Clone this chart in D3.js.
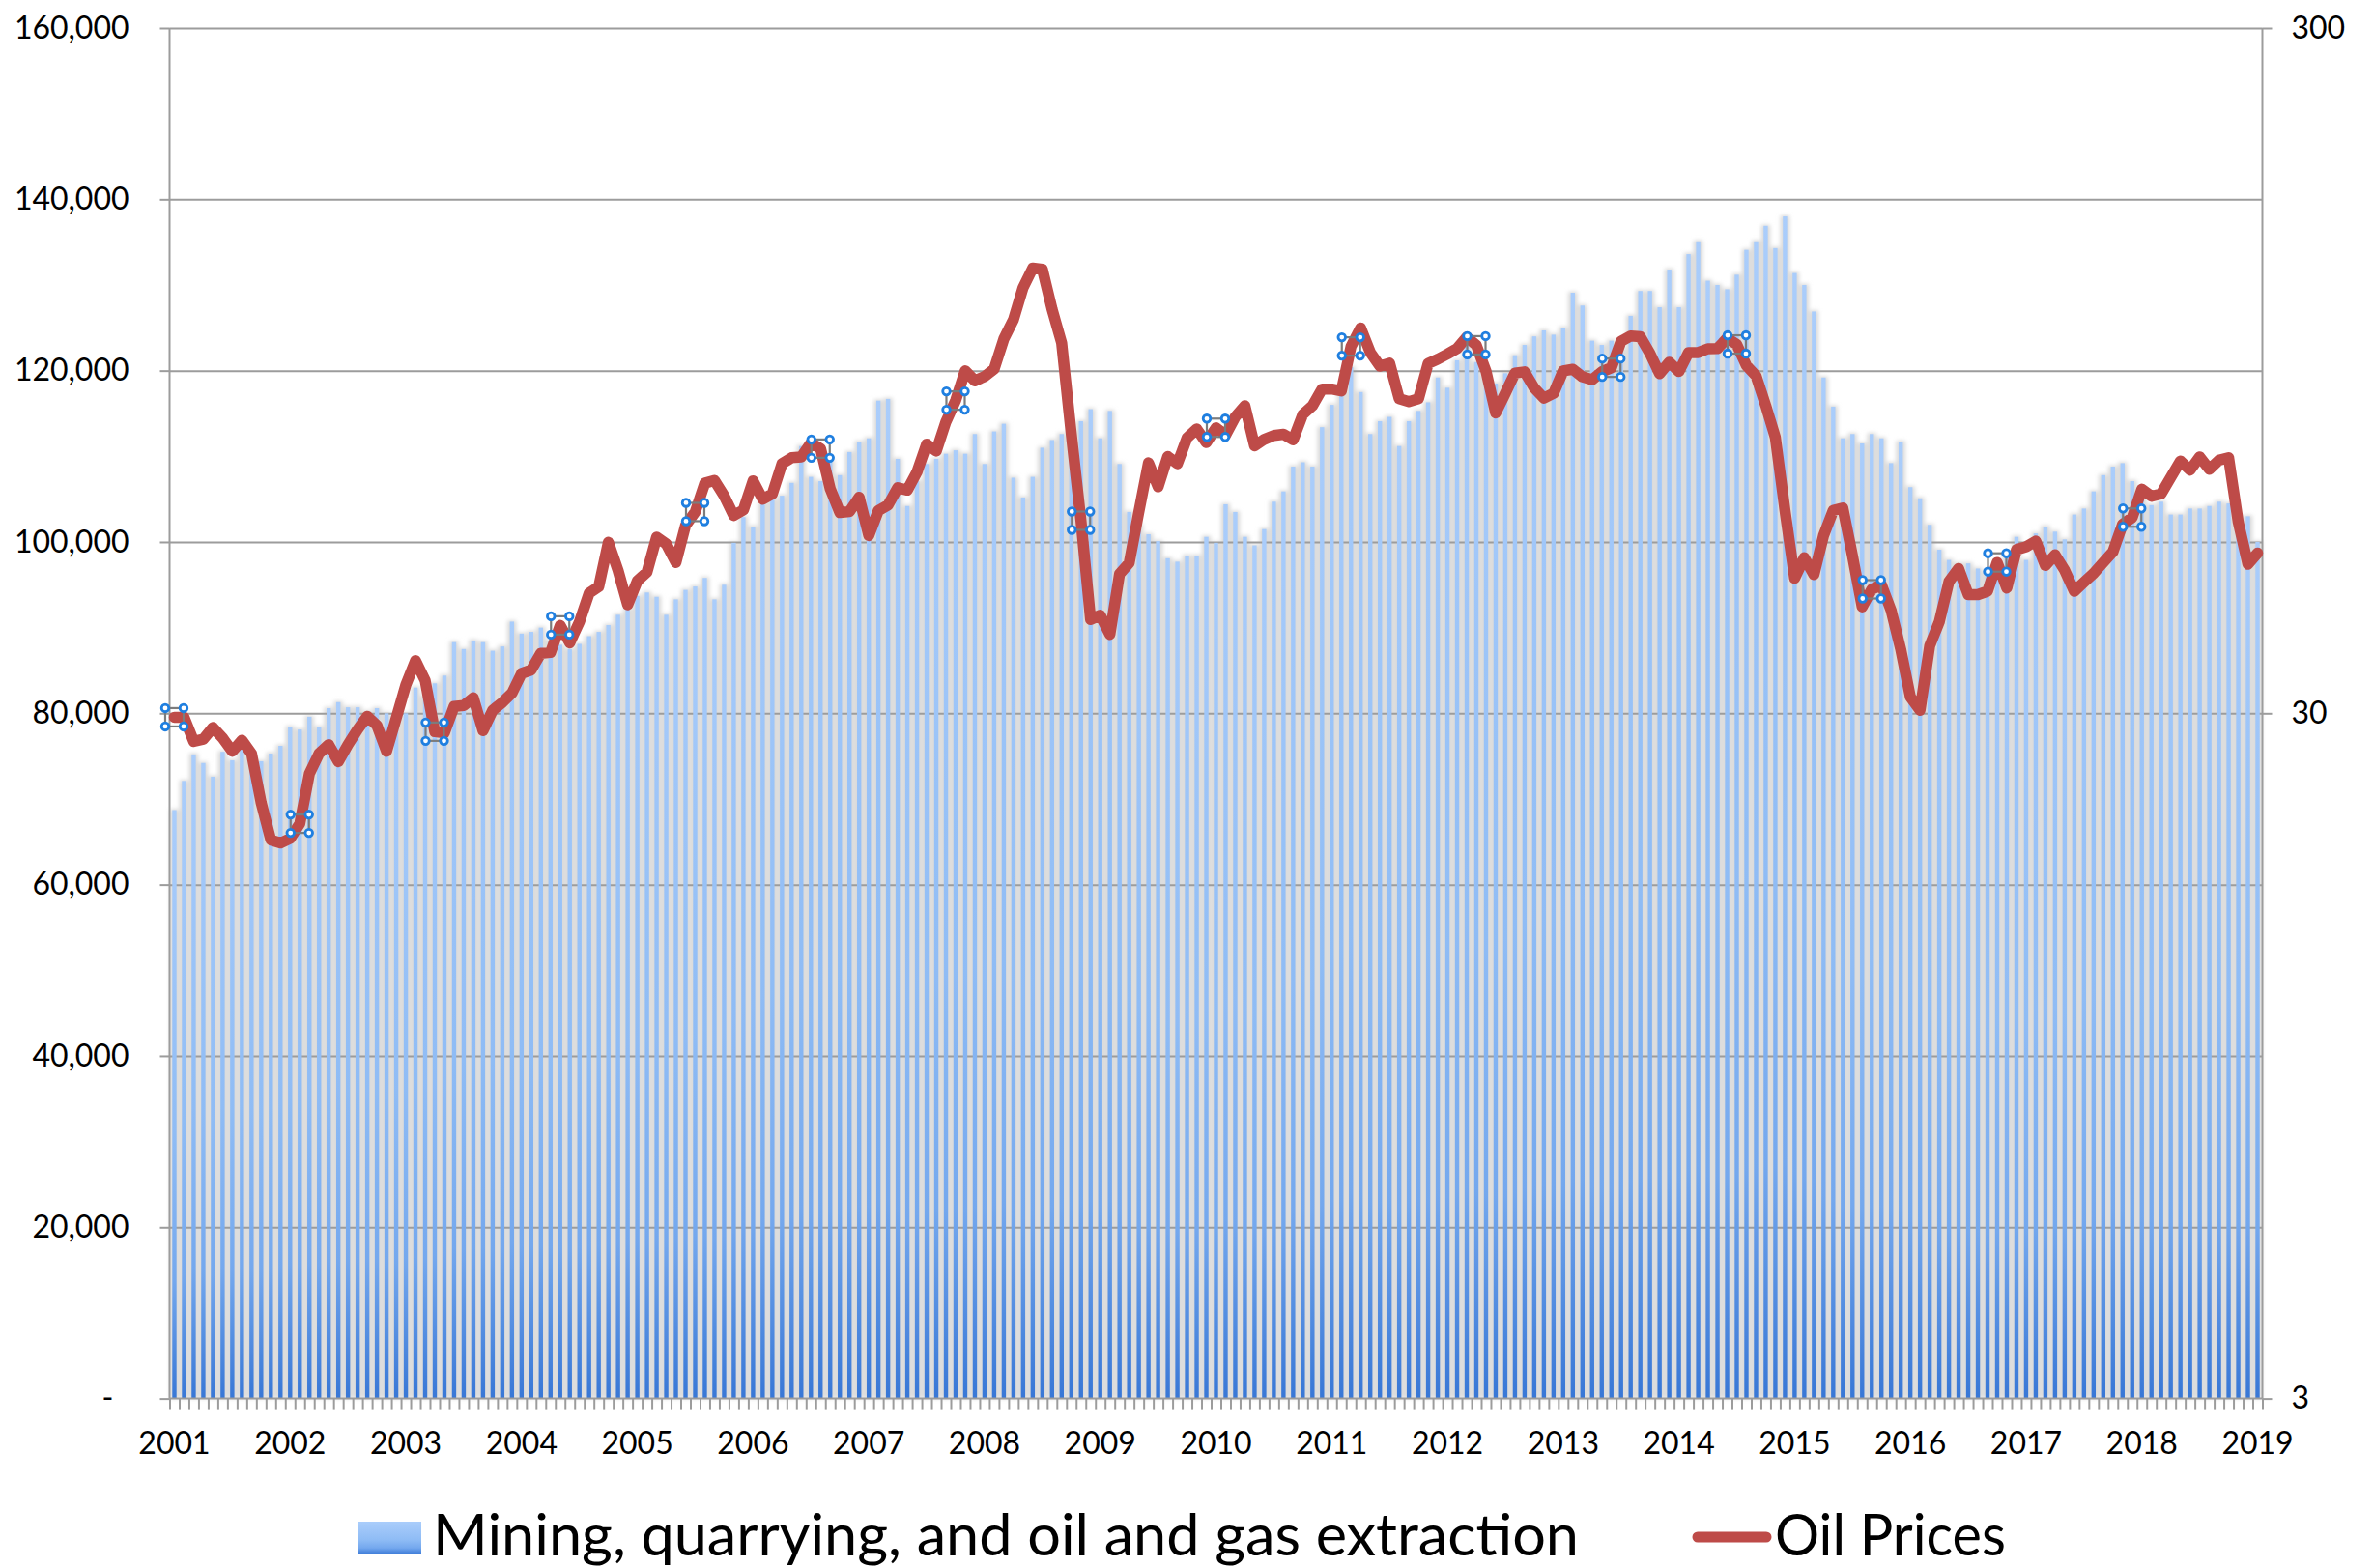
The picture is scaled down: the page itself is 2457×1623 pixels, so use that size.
<!DOCTYPE html>
<html>
<head>
<meta charset="utf-8">
<script src="https://cdn.jsdelivr.net/npm/d3@7"></script>
<style>
  body { margin: 0; background: #fff; }
  svg { display: block; }
  text { font-family: Lato, "Open Sans", sans-serif; fill: #000; }
</style>
</head>
<body>
<svg id="chart" width="2457" height="1623"></svg>
<script>
"use strict";

// category axis labels, one per January
let yearLabels = ["2001", "2002", "2003", "2004", "2005", "2006", "2007", "2008", "2009", "2010",
  "2011", "2012", "2013", "2014", "2015", "2016", "2017", "2018", "2019"];

// Mining, quarrying, and oil and gas extraction - monthly, Jan 2001 .. Jan 2019 (thousands)
let mining = [
  68.7, 72.1, 75.2, 74.2, 72.6, 75.5, 74.5, 76.0, 74.8, 74.4, 75.3, 76.2,           // 2001
  78.4, 78.1, 79.6, 78.4, 80.6, 81.3, 80.7, 80.7, 80.2, 80.6, 80.0, 79.5,           // 2002
  80.0, 83.0, 82.0, 83.5, 84.4, 88.3, 87.5, 88.5, 88.3, 87.3, 87.8, 90.7,           // 2003
  89.3, 89.5, 90.0, 88.5, 88.0, 87.5, 88.1, 89.0, 89.5, 90.3, 91.5, 92.2,           // 2004
  93.7, 94.1, 93.6, 91.5, 93.3, 94.4, 94.8, 95.8, 93.3, 95.0, 99.9, 102.9,          // 2005
  101.8, 104.6, 105.0, 105.4, 106.9, 111.2, 107.6, 107.1, 109.5, 107.8, 110.5, 111.7, // 2006
  112.1, 116.5, 116.7, 109.7, 104.2, 107.1, 109.1, 109.7, 110.3, 110.7, 110.3, 112.6, // 2007
  109.1, 112.9, 113.8, 107.5, 105.2, 107.6, 111.0, 111.9, 112.6, 113.0, 114.1, 115.5, // 2008
  112.1, 115.3, 109.1, 103.5, 102.0, 100.9, 100.1, 98.1, 97.7, 98.4, 98.4, 100.6,   // 2009
  99.9, 104.4, 103.5, 100.6, 99.6, 101.5, 104.7, 105.9, 108.8, 109.3, 108.8, 113.4, // 2010
  116.0, 117.4, 120.4, 117.5, 112.6, 114.1, 114.6, 111.2, 114.1, 115.3, 116.3, 119.2, // 2011
  118.0, 121.2, 123.0, 121.0, 119.5, 118.5, 119.7, 121.8, 123.0, 124.0, 124.7, 124.2, // 2012
  125.0, 129.1, 127.6, 123.5, 123.0, 123.5, 122.5, 126.4, 129.3, 129.3, 127.4, 131.8, // 2013
  127.4, 133.6, 135.1, 130.5, 130.0, 129.5, 131.2, 134.1, 135.1, 136.9, 134.3, 138.0, // 2014
  131.4, 130.0, 126.9, 119.2, 115.8, 112.1, 112.6, 111.5, 112.6, 112.1, 109.2, 111.7, // 2015
  106.4, 105.1, 102.0, 99.1, 97.9, 97.5, 97.5, 96.9, 96.5, 97.5, 98.5, 100.6,       // 2016
  97.9, 101.0, 101.8, 101.2, 100.3, 103.2, 103.9, 105.9, 107.8, 108.8, 109.2, 107.1, // 2017
  106.0, 104.3, 104.7, 103.2, 103.2, 103.9, 103.9, 104.2, 104.7, 104.5, 103.0, 103.0, // 2018
  100.0                                                                               // 2019
].map(v => v * 1000);

// Oil Prices - monthly, same months ($/bbl, right log axis)
let oil = [
  29.6, 29.6, 27.3, 27.5, 28.6, 27.6, 26.4, 27.4, 26.2, 22.2, 19.6, 19.4,
  19.7, 20.7, 24.5, 26.2, 27.0, 25.5, 27.0, 28.4, 29.7, 28.8, 26.4, 29.5,
  33.0, 35.8, 33.5, 28.2, 28.1, 30.7, 30.8, 31.6, 28.3, 30.3, 31.1, 32.1,
  34.3, 34.7, 36.7, 36.8, 40.3, 38.0, 40.8, 44.9, 45.9, 53.3, 48.5, 43.2,
  46.8, 48.2, 54.2, 53.0, 49.8, 56.4, 59.0, 65.0, 65.6, 62.3, 58.3, 59.4,
  65.5, 61.6, 62.7, 69.4, 70.8, 71.0, 74.4, 73.0, 63.8, 58.9, 59.1, 62.0,
  54.5, 59.3, 60.4, 64.0, 63.5, 67.5, 74.1, 72.4, 79.9, 85.8, 94.8, 91.7,
  93.0, 95.4, 105.5, 112.6, 125.4, 133.9, 133.4, 116.7, 104.1, 76.6, 57.3, 41.1,
  41.7, 39.1, 47.9, 49.7, 59.0, 69.6, 64.2, 71.1, 69.4, 75.7, 78.0, 74.5,
  78.3, 76.4, 81.2, 84.3, 73.7, 75.3, 76.3, 76.6, 75.2, 81.9, 84.3, 89.2,
  89.2, 88.6, 102.9, 109.5, 100.9, 96.3, 97.3, 86.3, 85.5, 86.3, 97.2, 98.6,
  100.3, 102.2, 106.2, 103.3, 94.7, 82.3, 87.9, 94.1, 94.5, 89.5, 86.5, 87.9,
  94.8, 95.3, 92.9, 92.0, 94.5, 95.8, 104.7, 106.6, 106.3, 100.5, 93.9, 97.6,
  94.6, 100.8, 100.8, 102.1, 102.2, 105.8, 103.6, 96.5, 93.2, 84.4, 75.8, 59.3,
  47.2, 50.6, 47.8, 54.5, 59.3, 59.8, 50.9, 42.9, 45.5, 46.2, 42.4, 37.2,
  31.7, 30.3, 37.6, 40.8, 46.7, 48.8, 44.7, 44.7, 45.2, 49.8, 45.7, 52.0,
  52.5, 53.5, 49.3, 51.1, 48.5, 45.2, 46.6, 48.0, 49.8, 51.6, 56.6, 57.9,
  63.7, 62.2, 62.7, 66.3, 70.0, 67.9, 71.0, 68.1, 70.2, 70.8, 57.0, 49.5,
  51.4
];

// points that carry the selection handles in the picture
let handleIdx = [0, 13, 27, 40, 54, 67, 81, 94, 108, 122, 135, 149, 162, 176, 189, 203];

let leftTicks = d3.range(0, 160001, 20000);
let rightTicks = [3, 30, 300];

let legendLabels = ["Mining, quarrying, and oil and gas extraction", "Oil Prices"];

function drawChart() {
  let svg = d3.select("#chart");
  let x0 = 175.5, x1 = 2341.5, yTop = 29, yBot = 1447.6;

  let x = d3.scaleBand().domain(d3.range(mining.length)).range([x0, x1]).paddingInner(0);
  let xEdge = d3.scaleLinear().domain([0, mining.length]).range([x0, x1]);
  let yL = d3.scaleLinear().domain([0, 160000]).range([yBot, yTop]);
  let yR = d3.scaleLog().domain([3, 300]).range([yBot, yTop]);
  let bw = x.bandwidth();

  let defs = svg.append("defs");
  let grad = defs.append("linearGradient").attr("id", "barGrad")
    .attr("x1", 0).attr("y1", 0).attr("x2", 0).attr("y2", 1);
  grad.append("stop").attr("offset", "0%").attr("stop-color", "#aacdfb");
  grad.append("stop").attr("offset", "55%").attr("stop-color", "#8fbcf5");
  grad.append("stop").attr("offset", "80%").attr("stop-color", "#74a8ee");
  grad.append("stop").attr("offset", "100%").attr("stop-color", "#3877d6");
  defs.append("filter").attr("id", "blur").attr("x", "-50%").attr("width", "200%")
    .append("feGaussianBlur").attr("stdDeviation", 2.2);

  // bar shadows
  svg.append("g").attr("filter", "url(#blur)")
    .selectAll("rect").data(mining).enter().append("rect")
    .attr("x", (d, i) => x(i) + bw / 2 - 4.6)
    .attr("width", 9.2)
    .attr("y", d => yL(d) - 1)
    .attr("height", d => yBot - yL(d) + 1)
    .attr("fill", "#d8d8d8");

  // gridlines
  svg.append("g")
    .attr("transform", `translate(${x0},0)`)
    .call(d3.axisLeft(yL).tickValues(leftTicks.slice(1)).tickSize(-(x1 - x0)).tickFormat(""))
    .call(g => g.select(".domain").remove())
    .selectAll("line").attr("stroke", "#8e8e8e").attr("stroke-width", 2);

  // bars
  svg.append("g")
    .selectAll("rect").data(mining).enter().append("rect")
    .attr("x", (d, i) => x(i) + bw / 2 - 2.2)
    .attr("width", 4.4)
    .attr("y", d => yL(d))
    .attr("height", d => yBot - yL(d))
    .attr("fill", "url(#barGrad)");

  // axes
  let left = svg.append("g")
    .attr("transform", `translate(${x0},0)`)
    .call(d3.axisLeft(yL).tickValues(leftTicks).tickSize(10).tickPadding(32)
      .tickFormat(d => d === 0 ? "-" : d3.format(",")(d)));
  left.selectAll("text").style("font-size", "32px")
    .attr("x", d => d === 0 ? -58 : -42);

  let right = svg.append("g")
    .attr("transform", `translate(${x1},0)`)
    .call(d3.axisRight(yR).tickValues(rightTicks).tickSize(10).tickPadding(20).tickFormat(d3.format("d")));
  right.selectAll("text").style("font-size", "32px");

  let ticks = svg.append("g")
    .attr("transform", `translate(0,${yBot})`)
    .call(d3.axisBottom(xEdge).tickValues(d3.range(0, mining.length + 1)).tickSize(11).tickFormat(""));

  let labels = svg.append("g")
    .attr("transform", `translate(0,${yBot})`)
    .call(d3.axisBottom(x).tickValues(d3.range(0, mining.length, 12)).tickSize(0).tickPadding(35)
      .tickFormat(i => yearLabels[i / 12]));
  labels.select(".domain").remove();
  labels.selectAll("text").style("font-size", "32px");

  svg.selectAll(".domain, .tick line").attr("stroke", "#9c9c9c").attr("stroke-width", 2);
  left.select(".domain").attr("d", `M0,${yTop}V${yBot}`);
  right.select(".domain").attr("d", `M0,${yTop}V${yBot}`);
  ticks.select(".domain").attr("d", `M${x0},0H${x1}`);
  svg.selectAll(".tick text").attr("fill", "#000");

  // oil price line
  let line = d3.line()
    .x((d, i) => x(i) + bw / 2)
    .y(d => yR(d));
  svg.append("path").datum(oil)
    .attr("d", line)
    .attr("fill", "none")
    .attr("stroke", "#be4b48")
    .attr("stroke-width", 11.5)
    .attr("stroke-linejoin", "round")
    .attr("stroke-linecap", "round");

  // selection handles
  let h = svg.append("g").selectAll("g").data(handleIdx).enter().append("g")
    .attr("transform", i => `translate(${x(i) + bw / 2},${yR(oil[i])})`);
  h.append("rect").attr("x", -9.5).attr("y", -9.5).attr("width", 19).attr("height", 19)
    .attr("fill", "none").attr("stroke", "#7c7c7c").attr("stroke-width", 2.2);
  [[-9.5, -9.5], [9.5, -9.5], [-9.5, 9.5], [9.5, 9.5]].forEach(c => {
    h.append("circle").attr("cx", c[0]).attr("cy", c[1]).attr("r", 3.8)
      .attr("fill", "#fff").attr("stroke", "#1f7fe0").attr("stroke-width", 2.8);
  });

  // legend
  let lg = svg.append("g");
  lg.append("rect").attr("x", 370).attr("y", 1575).attr("width", 66).attr("height", 34)
    .attr("fill", "url(#barGrad)");
  lg.append("text").attr("x", 448).attr("y", 1610).style("font-size", "60px")
    .attr("textLength", 1186).attr("lengthAdjust", "spacingAndGlyphs")
    .text(legendLabels[0]);
  lg.append("line").attr("x1", 1757).attr("x2", 1828).attr("y1", 1591).attr("y2", 1591)
    .attr("stroke", "#be4b48").attr("stroke-width", 11).attr("stroke-linecap", "round");
  lg.append("text").attr("x", 1837).attr("y", 1610).style("font-size", "60px")
    .attr("textLength", 239).attr("lengthAdjust", "spacingAndGlyphs")
    .text(legendLabels[1]);
}

drawChart();
</script>
</body>
</html>
